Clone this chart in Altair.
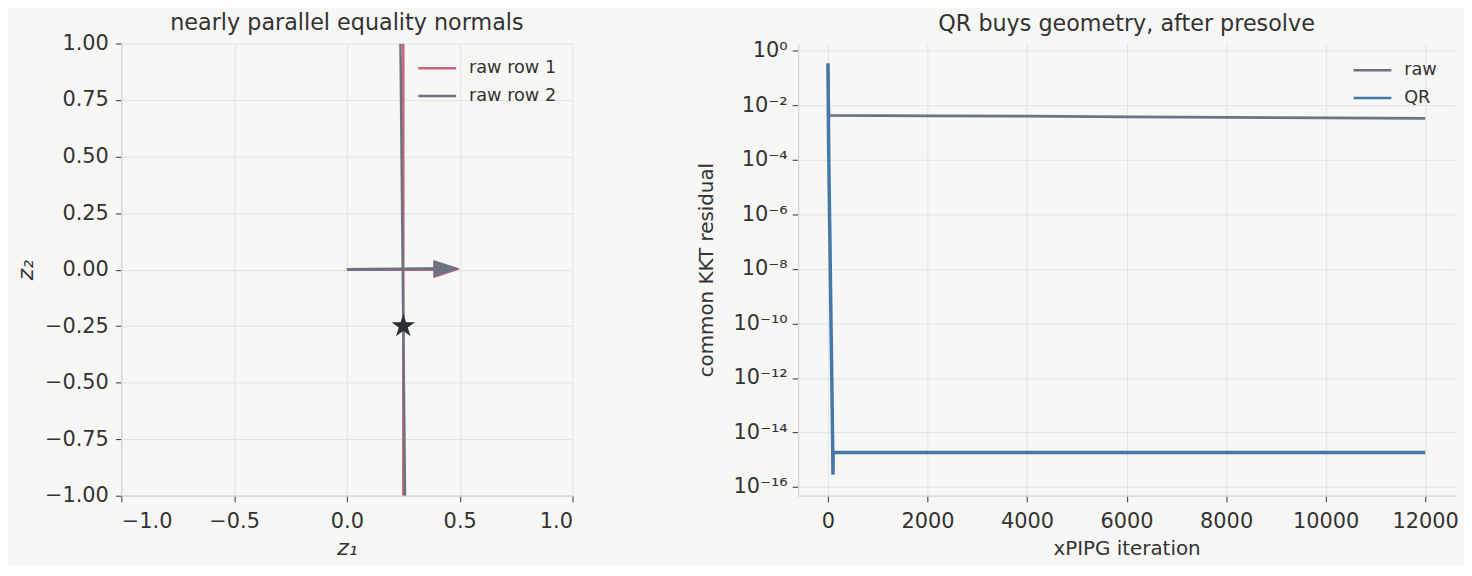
import altair as alt
import pandas as pd

# ---------------- data: left panel ----------------
row_names = ["raw row 1", "raw row 2"]
row_z2_ends = [1.0, -1.0]
row1_z1_ends = [0.2500, 0.2500]
row2_z1_ends = [0.2375, 0.2575]
arrow_tip_z1 = [0.5, 0.5]
arrow_tip_z2 = [0.0, 0.005]
star_z1 = [0.25]
star_z2 = [-0.25]

left_x_ticks = [-1.0, -0.5, 0.0, 0.5, 1.0]
left_y_ticks = [-1.0, -0.75, -0.5, -0.25, 0.0, 0.25, 0.5, 0.75, 1.0]

# ---------------- data: right panel ----------------
series_names = ["raw", "QR"]
raw_iter = [0, 20, 2000, 4000, 6000, 8000, 10000, 12000]
raw_val = [0.30, 4.3e-3, 4.15e-3, 4.0e-3, 3.8e-3, 3.65e-3, 3.5e-3, 3.35e-3]
qr_iter = [0, 8, 16, 24, 32, 40, 48, 56, 64, 72, 80, 88, 96, 100, 106, 12000]
qr_val = [3.5e-1, 4e-3, 1.3e-4, 1e-5, 8e-7, 1e-7, 6e-9, 5e-10, 4e-11, 4e-12,
          3e-13, 2.5e-14, 1.6e-15, 2.8e-16, 1.85e-15, 1.85e-15]

right_x_ticks = [0, 2000, 4000, 6000, 8000, 10000, 12000]
right_y_ticks = [1e0, 1e-2, 1e-4, 1e-6, 1e-8, 1e-10, 1e-12, 1e-14, 1e-16]
right_y_labels = ["10⁰", "10⁻²", "10⁻⁴", "10⁻⁶", "10⁻⁸", "10⁻¹⁰", "10⁻¹²", "10⁻¹⁴", "10⁻¹⁶"]

RED = "#ce6278"
GRAY = "#6c7282"
BLUE = "#4578aa"
STAR = "#2b2f33"
TXT = "#333333"

FONT_TICK = 21
FONT_AXTITLE = 20
FONT_TITLE = 22.4
FONT_LEG = 17.8

# ---------------- left chart ----------------
lines_df = pd.DataFrame({
    "z1": row1_z1_ends + row2_z1_ends,
    "z2": row_z2_ends + row_z2_ends,
    "row": [row_names[0]] * 2 + [row_names[1]] * 2,
})
shaft_df = pd.DataFrame({
    "row": row_names,
    "x0": [0.0, 0.0],
    "y0": [0.0, 0.0],
    "x1": [t * 0.9 for t in arrow_tip_z1],
    "y1": [t * 0.9 for t in arrow_tip_z2],
})
head_df = pd.DataFrame({"row": row_names, "x": arrow_tip_z1, "y": arrow_tip_z2})
star_df = pd.DataFrame({"x": star_z1, "y": star_z2})

xs = alt.Scale(domain=[-1, 1], nice=False, zero=False)
ys = alt.Scale(domain=[-1, 1], nice=False, zero=False)
cscale_left = alt.Scale(domain=row_names, range=[RED, GRAY])


def legend(offset):
    return alt.Legend(
        title=None, orient="top-right", symbolType="M-4.75,0 L4.75,0", symbolSize=64,
        symbolStrokeWidth=2.5, symbolFillColor="transparent",
        labelFontSize=FONT_LEG, labelColor=TXT,
        labelOffset=23, rowPadding=9, padding=0, offset=offset,
    )


xaxis_l = alt.Axis(values=left_x_ticks, format=".1f", title="z₁", titleFontStyle="italic",
                   titleFontSize=22, titlePadding=6, labelPadding=9)
yaxis_l = alt.Axis(values=left_y_ticks, format=".2f", title="z₂", titleFontStyle="italic",
                   titleFontSize=22, titlePadding=7)

lines_l = alt.Chart(lines_df).mark_line(strokeWidth=2.5, clip=True).encode(
    x=alt.X("z1:Q", scale=xs, axis=xaxis_l),
    y=alt.Y("z2:Q", scale=ys, axis=yaxis_l),
    color=alt.Color("row:N", scale=cscale_left, legend=legend(16)),
    detail="row:N",
)
shafts = alt.Chart(shaft_df).mark_rule(strokeWidth=3).encode(
    x=alt.X("x0:Q", scale=xs), y=alt.Y("y0:Q", scale=ys),
    x2="x1:Q", y2="y1:Q",
    color=alt.Color("row:N", scale=cscale_left, legend=None),
)
heads = alt.Chart(head_df).mark_point(
    shape="M0,0 L-2,-0.65 L-2,0.65 Z", size=700, filled=True, opacity=1, strokeWidth=0
).encode(
    x=alt.X("x:Q", scale=xs), y=alt.Y("y:Q", scale=ys),
    color=alt.Color("row:N", scale=cscale_left, legend=None),
)
star = alt.Chart(star_df).mark_point(
    shape="M0,-1 L0.2245,-0.309 L0.951,-0.309 L0.363,0.118 L0.588,0.809 L0,0.382 L-0.588,0.809 L-0.363,0.118 L-0.951,-0.309 L-0.2245,-0.309 Z",
    size=620, filled=True, opacity=1, color=STAR, strokeWidth=0,
).encode(x=alt.X("x:Q", scale=xs), y=alt.Y("y:Q", scale=ys))

left = alt.layer(lines_l, shafts, heads, star).properties(
    width=454, height=455,
    title=alt.Title("nearly parallel equality normals", offset=-2),
)

# ---------------- right chart ----------------
raw_df = pd.DataFrame({"it": raw_iter, "v": raw_val, "s": "raw"})
qr_df = pd.DataFrame({"it": qr_iter, "v": qr_val, "s": "QR"})

label_expr = ""
for v, t in zip(right_y_ticks, right_y_labels):
    label_expr += f"datum.value >= {v * 0.5} ? '{t}' : "
label_expr += "''"

xr = alt.Scale(domain=[-600, 12600], nice=False, zero=False)
yr = alt.Scale(type="log", domain=[10 ** -16.32, 10 ** 0.27], nice=False)
cscale_right = alt.Scale(domain=series_names, range=[GRAY, BLUE])

xaxis_r = alt.Axis(values=right_x_ticks, format="d", title="xPIPG iteration", titlePadding=7,
                   labelPadding=9)
yaxis_r = alt.Axis(values=right_y_ticks, labelExpr=label_expr, title="common KKT residual",
                   titlePadding=16, labelPadding=5)

raw_line = alt.Chart(raw_df).mark_line(strokeWidth=2.8, clip=True).encode(
    x=alt.X("it:Q", scale=xr, axis=xaxis_r),
    y=alt.Y("v:Q", scale=yr, axis=yaxis_r),
    color=alt.Color("s:N", scale=cscale_right, legend=legend(18)),
)
qr_line = alt.Chart(qr_df).mark_line(strokeWidth=3.5, clip=True).encode(
    x=alt.X("it:Q", scale=xr),
    y=alt.Y("v:Q", scale=yr),
    color=alt.Color("s:N", scale=cscale_right),
)
right = alt.layer(raw_line, qr_line).properties(
    width=661, height=455,
    title=alt.Title("QR buys geometry, after presolve", offset=5),
)

chart = alt.hconcat(left, right, spacing=124).resolve_scale(
    color="independent"
).resolve_legend(color="independent").configure(
    background="#f7f7f5", font="DejaVu Sans",
    padding={"left": 6, "top": 2, "right": 5, "bottom": 5},
).configure_view(stroke=None).configure_axis(
    domainColor="#d4d4d4", domainWidth=1.3, grid=True, gridColor="#e3e3e3", gridWidth=1,
    tickColor="#444444", tickSize=6, tickWidth=1.1, labelFontSize=FONT_TICK, labelColor=TXT,
    labelPadding=7, titleFontSize=FONT_AXTITLE, titleColor=TXT, titleFontWeight="normal",
).configure_title(
    fontSize=FONT_TITLE, fontWeight="normal", color=TXT, anchor="middle",
)

chart.save("out.html", embed_options={"renderer": "svg", "actions": False})
